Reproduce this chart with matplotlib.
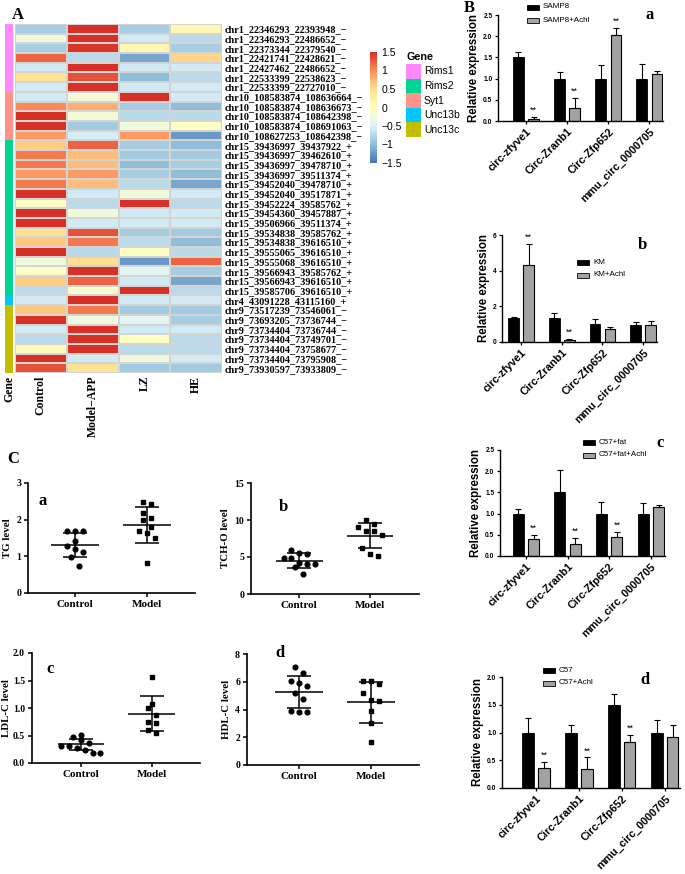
import numpy as np
import matplotlib.pyplot as plt
from matplotlib.colors import LinearSegmentedColormap, ListedColormap, Normalize
from matplotlib.cm import ScalarMappable
from matplotlib.patches import Rectangle

W, H = 685, 874
SERIF = 'Liberation Serif'
SANS = 'Liberation Sans'

# ---------------- data: panel A heatmap ----------------
row_labels = [
    'chr1_22346293_22393948_−', 'chr1_22346293_22486652_−', 'chr1_22373344_22379540_−',
    'chr1_22421741_22428621_−', 'chr1_22427462_22486652_−', 'chr1_22533399_22538623_−',
    'chr1_22533399_22727010_−',
    'chr10_108583874_108636664_−', 'chr10_108583874_108636673_−', 'chr10_108583874_108642398_−',
    'chr10_108583874_108691063_−', 'chr10_108627253_108642398_−',
    'chr15_39436997_39437922_+', 'chr15_39436997_39462610_+', 'chr15_39436997_39478710_+',
    'chr15_39436997_39511374_+', 'chr15_39452040_39478710_+', 'chr15_39452040_39517871_+',
    'chr15_39452224_39585762_+', 'chr15_39454360_39457887_+', 'chr15_39506966_39511374_+',
    'chr15_39534838_39585762_+', 'chr15_39534838_39616510_+', 'chr15_39555065_39616510_+',
    'chr15_39555068_39616510_+', 'chr15_39566943_39585762_+', 'chr15_39566943_39616510_+',
    'chr15_39585706_39616510_+',
    'chr4_43091228_43115160_+',
    'chr9_73517239_73546061_−', 'chr9_73693205_73736744_−', 'chr9_73734404_73736744_−',
    'chr9_73734404_73749701_−', 'chr9_73734404_73758677_−', 'chr9_73734404_73795908_−',
    'chr9_73930597_73933809_−',
]
gene_names = ['Rims1', 'Rims2', 'Syt1', 'Unc13b', 'Unc13c']
gene_colors = ['#FF88FF', '#00D492', '#FF9289', '#00C8FF', '#C4BE00']
row_gene = ['Rims1'] * 7 + ['Syt1'] * 5 + ['Rims2'] * 16 + ['Unc13b'] + ['Unc13c'] * 7
heat_cols = ['Control', 'Model−APP', 'LZ', 'HE']
heat_vals = [
    [-0.85, 1.50, -0.85, 0.10],
    [-0.25, 1.50, -0.60, -0.75],
    [-0.85, 1.45, 0.15, -0.85],
    [1.20, -0.75, -1.15, 0.55],
    [-0.60, 1.50, -0.60, -0.60],
    [0.45, 1.30, -1.00, -0.75],
    [-0.60, 1.50, -0.60, -0.60],
    [-0.60, -0.20, 1.50, -0.60],
    [1.00, 0.80, -0.85, -1.00],
    [1.50, -0.20, -0.75, -0.75],
    [1.50, -0.90, -0.25, -0.05],
    [0.90, -0.55, 0.90, -1.25],
    [0.60, 1.20, -0.85, -1.00],
    [1.10, 0.70, -0.90, -0.90],
    [1.10, 0.70, -1.00, -0.85],
    [0.90, 0.90, -0.85, -1.00],
    [1.10, 0.70, -0.75, -1.15],
    [1.50, -0.60, -0.25, -0.60],
    [-0.05, -0.75, 1.50, -0.75],
    [1.50, -0.25, -0.60, -0.60],
    [1.50, -0.60, -0.60, -0.60],
    [0.50, 1.30, -0.90, -0.90],
    [0.65, 1.10, -0.75, -1.00],
    [1.50, -0.75, -0.05, -0.75],
    [-0.25, 0.50, -1.25, 1.20],
    [-0.05, 1.50, -0.45, -0.85],
    [0.60, 1.20, -0.60, -1.15],
    [-0.75, -0.15, 1.50, -0.75],
    [-0.60, 1.50, -0.60, -0.60],
    [0.65, 1.10, -0.90, -0.90],
    [1.50, -0.25, -0.45, -0.85],
    [-0.60, 1.50, -0.60, -0.60],
    [-0.75, 1.50, -0.05, -0.75],
    [0.05, 1.50, -0.75, -0.75],
    [1.50, -0.60, -0.25, -0.60],
    [1.30, 0.45, -0.90, -0.90],
]

# ---------------- data: panel B bar charts ----------------
circ_names = ['circ-zfyve1', 'Circ-Zranb1', 'Circ-Zfp652', 'mmu_circ_0000705']

a_groups = ['SAMP8', 'SAMP8+Achl']
a_ctrl = [1.50, 1.00, 1.00, 1.00]
a_ctrl_sd = [0.13, 0.15, 0.33, 0.34]
a_trt = [0.05, 0.31, 2.03, 1.10]
a_trt_sd = [0.05, 0.24, 0.16, 0.07]
a_star = [1, 1, 1, 0]

b_groups = ['KM', 'KM+Achl']
b_ctrl = [1.35, 1.35, 1.02, 0.95]
b_ctrl_sd = [0.05, 0.30, 0.28, 0.18]
b_trt = [4.30, 0.10, 0.72, 0.95]
b_trt_sd = [1.20, 0.08, 0.10, 0.25]
b_star = [1, 1, 0, 0]

c_groups = ['C57+fat', 'C57+fat+Achl']
c_ctrl = [0.98, 1.50, 0.98, 0.98]
c_ctrl_sd = [0.12, 0.52, 0.30, 0.28]
c_trt = [0.40, 0.28, 0.45, 1.15]
c_trt_sd = [0.10, 0.14, 0.12, 0.05]
c_star = [1, 1, 1, 0]

d_groups = ['C57', 'C57+Achl']
d_ctrl = [1.00, 1.00, 1.49, 1.00]
d_ctrl_sd = [0.26, 0.13, 0.20, 0.23]
d_trt = [0.36, 0.34, 0.82, 0.92]
d_trt_sd = [0.11, 0.21, 0.13, 0.21]
d_star = [1, 1, 1, 0]

# ---------------- data: panel C scatter plots ----------------
scatter_groups = ['Control', 'Model']
tg_ctrl = [1.70, 1.70, 1.68, 1.42, 1.28, 1.20, 1.11, 0.97, 0.75]
tg_model = [2.48, 2.42, 2.17, 2.00, 2.05, 1.79, 1.69, 1.63, 1.49, 0.83]
tg_mean = [1.31, 1.85]
tg_sd = [0.34, 0.49]

tch_ctrl = [6.0, 5.5, 5.4, 4.9, 4.8, 4.2, 4.1, 4.1, 3.7, 2.7]
tch_model = [9.95, 9.46, 9.05, 8.47, 8.47, 8.0, 6.2, 5.4, 5.2]
tch_mean = [4.50, 7.90]
tch_sd = [1.00, 1.75]

ldl_ctrl = [0.51, 0.47, 0.41, 0.36, 0.31, 0.31, 0.28, 0.24, 0.19, 0.18]
ldl_model = [1.57, 1.08, 1.00, 0.88, 0.75, 0.73, 0.60, 0.55]
ldl_mean = [0.34, 0.90]
ldl_sd = [0.10, 0.31]

hdl_ctrl = [7.04, 6.65, 6.07, 5.93, 5.70, 5.17, 4.74, 3.90, 3.85, 3.85]
hdl_model = [6.08, 6.08, 5.84, 5.17, 4.69, 4.60, 3.92, 3.05, 1.68]
hdl_mean = [5.25, 4.52]
hdl_sd = [1.17, 1.48]


fig = plt.figure(figsize=(W / 100, H / 100), dpi=100)


def box(x0, y0, x1, y1):
    # axes from pixel box (top-left origin)
    return fig.add_axes([x0 / W, 1 - y1 / H, (x1 - x0) / W, (y1 - y0) / H])


ov = fig.add_axes([0, 0, 1, 1], zorder=10)
ov.set_xlim(0, W)
ov.set_ylim(H, 0)
ov.axis('off')

# ---------------- panel A ----------------
cmap = LinearSegmentedColormap.from_list(
    'ph', ['#4575B4', '#91BFDB', '#E0F3F8', '#FFFFBF', '#FEE090', '#FC8D59', '#D73027'], N=100)
norm = Normalize(-1.5, 1.5)

vals = np.array(heat_vals)
ax = box(15, 24, 222, 373)
ax.pcolormesh(vals, cmap=cmap, norm=norm, edgecolors='#d4d4d4', linewidth=0.25)
ax.set_xlim(0, vals.shape[1])
ax.set_ylim(vals.shape[0], 0)
ax.set_yticks(np.arange(len(row_labels)) + 0.5)
ax.set_yticklabels(row_labels, fontfamily=SERIF, fontweight='bold', fontsize=7.3)
ax.yaxis.tick_right()
ax.set_xticks(np.arange(len(heat_cols)) + 0.5)
ax.set_xticklabels(heat_cols, rotation=90, fontfamily=SERIF, fontweight='bold', fontsize=8.5)
ax.tick_params(length=0, pad=2)
for s in ax.spines.values():
    s.set_visible(False)

gcode = np.array([[gene_names.index(g)] for g in row_gene])
axg = box(5, 24, 13, 373)
axg.pcolormesh(gcode, cmap=ListedColormap(gene_colors), vmin=-0.5, vmax=len(gene_names) - 0.5)
axg.set_ylim(len(row_gene), 0)
axg.set_yticks([])
axg.set_xticks([0.5])
axg.set_xticklabels(['Gene'], rotation=90, fontfamily=SERIF, fontweight='bold', fontsize=8.5)
axg.tick_params(length=0, pad=2)
for s in axg.spines.values():
    s.set_visible(False)

cax = box(370, 52, 377, 163)
cb = fig.colorbar(ScalarMappable(norm, cmap), cax=cax)
cb.outline.set_visible(False)
cb.set_ticks([1.5, 1, 0.5, 0, -0.5, -1, -1.5])
cb.set_ticklabels(['1.5', '1', '0.5', '0', '−0.5', '−1', '−1.5'])
cax.tick_params(length=0, labelsize=7.5, pad=3)
for t in cax.get_yticklabels():
    t.set_fontfamily(SANS)

ov.text(407, 57, 'Gene', fontfamily=SANS, fontweight='bold', fontsize=7.8, va='center')
for i, (g, c) in enumerate(zip(gene_names, gene_colors)):
    y = 64 + i * 14.6
    ov.add_patch(Rectangle((406, y), 15, 14.6, facecolor=c, edgecolor='none'))
    ov.text(424, y + 7.3, g, fontfamily=SANS, fontsize=7.5, va='center')

ov.text(18, 15, 'A', fontfamily=SERIF, fontweight='bold', fontsize=12, ha='center', va='center')
ov.text(469, 8, 'B', fontfamily=SERIF, fontweight='bold', fontsize=12, ha='center', va='center')
ov.text(13, 459, 'C', fontfamily=SERIF, fontweight='bold', fontsize=12, ha='center', va='center')


# ---------------- panel B ----------------
def bar_panel(pbox, xl, ymax, yticks, fmt, ctrl, ctrl_sd, trt, trt_sd, star,
              groups, leg_xy, letter, letter_xy):
    ax = box(*pbox)
    x = np.arange(len(circ_names))
    off, w = 0.185, 0.26
    ax.bar(x - off, ctrl, w, color='black', edgecolor='black', linewidth=0.6, zorder=2)
    ax.bar(x + off, trt, w, color='#A3A3A3', edgecolor='black', linewidth=0.8, zorder=2)
    z = np.zeros(len(x))
    ax.errorbar(x - off, ctrl, yerr=[z, ctrl_sd], fmt='none', ecolor='black',
                elinewidth=0.8, capsize=2.2, capthick=0.8, zorder=3)
    ax.errorbar(x + off, trt, yerr=[z, trt_sd], fmt='none', ecolor='black',
                elinewidth=0.8, capsize=2.2, capthick=0.8, zorder=3)
    for xi, v, e, s in zip(x, trt, trt_sd, star):
        if s:
            ax.text(xi + off, v + e + 0.02 * ymax, '**', ha='center', va='bottom',
                    fontsize=6.5, fontfamily=SANS)
    ax.set_xlim(*xl)
    ax.set_ylim(0, ymax)
    ax.set_yticks(yticks)
    ax.set_yticklabels([fmt.format(t) for t in yticks], fontfamily=SANS,
                       fontweight='bold', fontsize=4.8)
    ax.set_xticks(x)
    ax.set_xticklabels(circ_names, rotation=45, ha='right', rotation_mode='anchor',
                       fontfamily=SANS, fontweight='bold', fontsize=7.8)
    ax.tick_params(axis='y', length=2.5, width=0.9, pad=1.5)
    ax.tick_params(axis='x', length=2.5, width=0.9, pad=1.5)
    for s in ['top', 'right']:
        ax.spines[s].set_visible(False)
    for s in ['left', 'bottom']:
        ax.spines[s].set_linewidth(1.0)
    ax.set_ylabel('Relative expression', fontfamily=SANS, fontweight='bold',
                  fontsize=8.3, labelpad=2)
    ax.patch.set_alpha(0)
    lx, ly = leg_xy
    ov.add_patch(Rectangle((lx, ly - 2.5), 12, 5, facecolor='black', edgecolor='black', lw=0.6))
    ov.add_patch(Rectangle((lx, ly + 10.5), 12, 5, facecolor='#A3A3A3', edgecolor='black', lw=0.6))
    ov.text(lx + 16, ly, groups[0], fontfamily=SANS, fontsize=5.8, va='center')
    ov.text(lx + 16, ly + 13, groups[1], fontfamily=SANS, fontsize=5.8, va='center')
    ov.text(*letter_xy, letter, fontfamily=SERIF, fontweight='bold', fontsize=12,
            ha='center', va='center')


bar_panel((498, 15, 663, 121), (-0.68, 3.33), 2.5, [0, 0.5, 1.0, 1.5, 2.0, 2.5], '{:.1f}',
          a_ctrl, a_ctrl_sd, a_trt, a_trt_sd, a_star, a_groups, (527, 7), 'a', (650, 15))
bar_panel((502, 235, 657, 342), (-0.47, 3.34), 6, [0, 2, 4, 6], '{:.0f}',
          b_ctrl, b_ctrl_sd, b_trt, b_trt_sd, b_star, b_groups, (577, 262), 'b', (642, 245))
bar_panel((500, 450, 665, 556), (-0.62, 3.34), 2.5, [0, 0.5, 1.0, 1.5, 2.0, 2.5], '{:.1f}',
          c_ctrl, c_ctrl_sd, c_trt, c_trt_sd, c_star, c_groups, (583, 442), 'c', (660, 443))
bar_panel((502, 677, 680, 788), (-0.79, 3.35), 2.0, [0, 0.5, 1.0, 1.5, 2.0], '{:.1f}',
          d_ctrl, d_ctrl_sd, d_trt, d_trt_sd, d_star, d_groups, (543, 670), 'd', (645, 680))


# ---------------- panel C ----------------
def spread(v, tol, step):
    # simple deterministic side-by-side spreading of close values
    v = np.asarray(v, float)
    order = np.argsort(v)
    offs = np.zeros(len(v))
    groups, cur = [], [order[0]]
    for i in order[1:]:
        if v[i] - v[cur[0]] < tol:
            cur.append(i)
        else:
            groups.append(cur)
            cur = [i]
    groups.append(cur)
    for g in groups:
        n = len(g)
        for k, i in enumerate(sorted(g)):
            offs[i] = (k - (n - 1) / 2) * step
    return offs


def scatter_panel(pbox, xl, ymax, yticks, fmt, ctrl, model, mean, sd, ylabel,
                  letter, letter_xy, lpad=3):
    ax = box(*pbox)
    tol = 0.075 * ymax
    for xi, pts, mk in zip([1, 2], [ctrl, model], ['o', 's']):
        ax.plot(xi + spread(pts, tol, 0.11), pts, mk, color='black', ms=3.4,
                mec='black', clip_on=False)
    for xi, m, s in zip([1, 2], mean, sd):
        ax.hlines(m, xi - 0.33, xi + 0.33, color='black', lw=1.1)
        ax.hlines([m - s, m + s], xi - 0.17, xi + 0.17, color='black', lw=1.1)
        ax.vlines(xi, m - s, m + s, color='black', lw=1.1)
    ax.set_xlim(*xl)
    ax.set_ylim(0, ymax)
    ax.set_yticks(yticks)
    ax.set_yticklabels([fmt.format(t) for t in yticks], fontfamily=SERIF,
                       fontweight='bold', fontsize=7)
    ax.set_xticks([1, 2])
    ax.set_xticklabels(scatter_groups, fontfamily=SERIF, fontweight='bold', fontsize=8)
    ax.tick_params(length=3, width=1.1, pad=2)
    for s in ['top', 'right']:
        ax.spines[s].set_visible(False)
    for s in ['left', 'bottom']:
        ax.spines[s].set_linewidth(1.2)
    ax.set_ylabel(ylabel, fontfamily=SERIF, fontweight='bold', fontsize=7.8, labelpad=lpad)
    ax.patch.set_alpha(0)
    ov.text(*letter_xy, letter, fontfamily=SERIF, fontweight='bold', fontsize=12,
            ha='center', va='center')


scatter_panel((28, 483, 195, 593), (0.35, 2.67), 3, [0, 1, 2, 3], '{:.0f}',
              tg_ctrl, tg_model, tg_mean, tg_sd, 'TG level', 'a', (43, 501))
scatter_panel((251, 483, 419, 594), (0.32, 2.69), 15, [0, 5, 10, 15], '{:.0f}',
              tch_ctrl, tch_model, tch_mean, tch_sd, 'TCH-O level', 'b', (283, 507))
scatter_panel((32, 653, 200, 763), (0.31, 2.68), 2, [0, 0.5, 1.0, 1.5, 2.0], '{:.1f}',
              ldl_ctrl, ldl_model, ldl_mean, ldl_sd, 'LDL-C level', 'c', (50, 669), lpad=1.5)
scatter_panel((247, 654, 419, 765), (0.28, 2.67), 8, [0, 2, 4, 6, 8], '{:.0f}',
              hdl_ctrl, hdl_model, hdl_mean, hdl_sd, 'HDL-C level', 'd', (280, 653))

fig.savefig('out.png', dpi=100)
